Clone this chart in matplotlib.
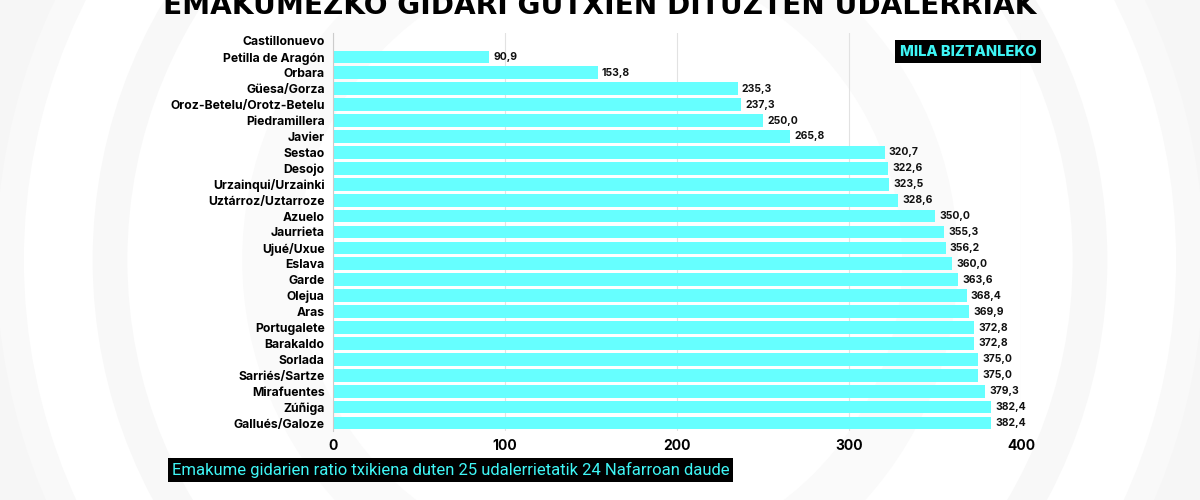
import matplotlib.pyplot as plt
from matplotlib.patches import Circle

# data
municipalities = ['Castillonuevo', 'Petilla de Aragón', 'Orbara', 'Güesa/Gorza',
                  'Oroz-Betelu/Orotz-Betelu', 'Piedramillera', 'Javier', 'Sestao',
                  'Desojo', 'Urzainqui/Urzainki', 'Uztárroz/Uztarroze', 'Azuelo',
                  'Jaurrieta', 'Ujué/Uxue', 'Eslava', 'Garde', 'Olejua', 'Aras',
                  'Portugalete', 'Barakaldo', 'Sorlada', 'Sarriés/Sartze',
                  'Mirafuentes', 'Zúñiga', 'Gallués/Galoze']
ratio = [0.0, 90.9, 153.8, 235.3, 237.3, 250.0, 265.8, 320.7, 322.6, 323.5,
         328.6, 350.0, 355.3, 356.2, 360.0, 363.6, 368.4, 369.9, 372.8, 372.8,
         375.0, 375.0, 379.3, 382.4, 382.4]
xticks = [0, 100, 200, 300, 400]

title = 'EMAKUMEZKO GIDARI GUTXIEN DITUZTEN UDALERRIAK'
unit_label = 'MILA BIZTANLEKO'
note = 'Emakume gidarien ratio txikiena duten 25 udalerrietatik 24 Nafarroan daude'

CYAN = '#66ffff'
TXT_CYAN = '#3ff5f5'

plt.rcParams['font.family'] = ['Inter', 'DejaVu Sans']

fig = plt.figure(figsize=(12, 5), dpi=100)
fig.patch.set_facecolor('white')

# faint background rings
bg = fig.add_axes([0, 0, 1, 1], zorder=0)
bg.set_xlim(0, 1200)
bg.set_ylim(500, 0)
bg.axis('off')
for r, w, c in [(640, 60, '#f6f6f6'), (590, 20, '#f9f9f9'), (490, 25, '#f8f8f8'),
                (330, 40, '#fafafa')]:
    bg.add_patch(Circle((600, 260), r, fill=False, lw=w, ec=c))

ax = fig.add_axes([0.2775, 0.138, 0.5733, 0.796], zorder=1)
ax.patch.set_alpha(0)
y = list(range(len(municipalities)))
ax.barh(y, ratio, height=0.8, color=CYAN, zorder=2)
for yi, v in zip(y, ratio):
    if v > 0:
        ax.text(v + 2.5, yi, f'{v:.1f}'.replace('.', ','), va='center', ha='left',
                fontsize=7.5, fontweight='bold', color='#111111')

ax.set_xlim(0, 400)
ax.set_ylim(len(municipalities) - 0.5, -0.5)
ax.set_yticks(y)
ax.set_yticklabels(municipalities, fontsize=8.8, fontweight='bold')
ax.set_xticks(xticks)
ax.set_xticklabels([str(t) for t in xticks], fontsize=10, fontweight='bold')
ax.tick_params(length=0, pad=6)
ax.tick_params(axis='y', pad=6)
ax.grid(axis='x', color='#e2e2e2', lw=0.8, zorder=0)
for s in ['top', 'right', 'bottom']:
    ax.spines[s].set_visible(False)
ax.spines['left'].set_color('#cccccc')
ax.spines['left'].set_linewidth(0.8)

fig.text(0.5, 0.988, title, ha='center', va='center', fontsize=20.2,
         fontweight='heavy', family=['DejaVu Sans'], color='black')

fig.text(0.8635, 0.897, unit_label, ha='right', va='center', fontsize=10.5,
         fontweight='heavy', color=TXT_CYAN,
         bbox=dict(boxstyle='square,pad=0.3', fc='black', ec='none'))

fig.text(0.143, 0.06, note, ha='left', va='center', fontsize=12.0,
         family=['Roboto', 'DejaVu Sans'], color=TXT_CYAN,
         bbox=dict(boxstyle='square,pad=0.22', fc='black', ec='none'))

fig.savefig('out.png', dpi=100, facecolor='white')
